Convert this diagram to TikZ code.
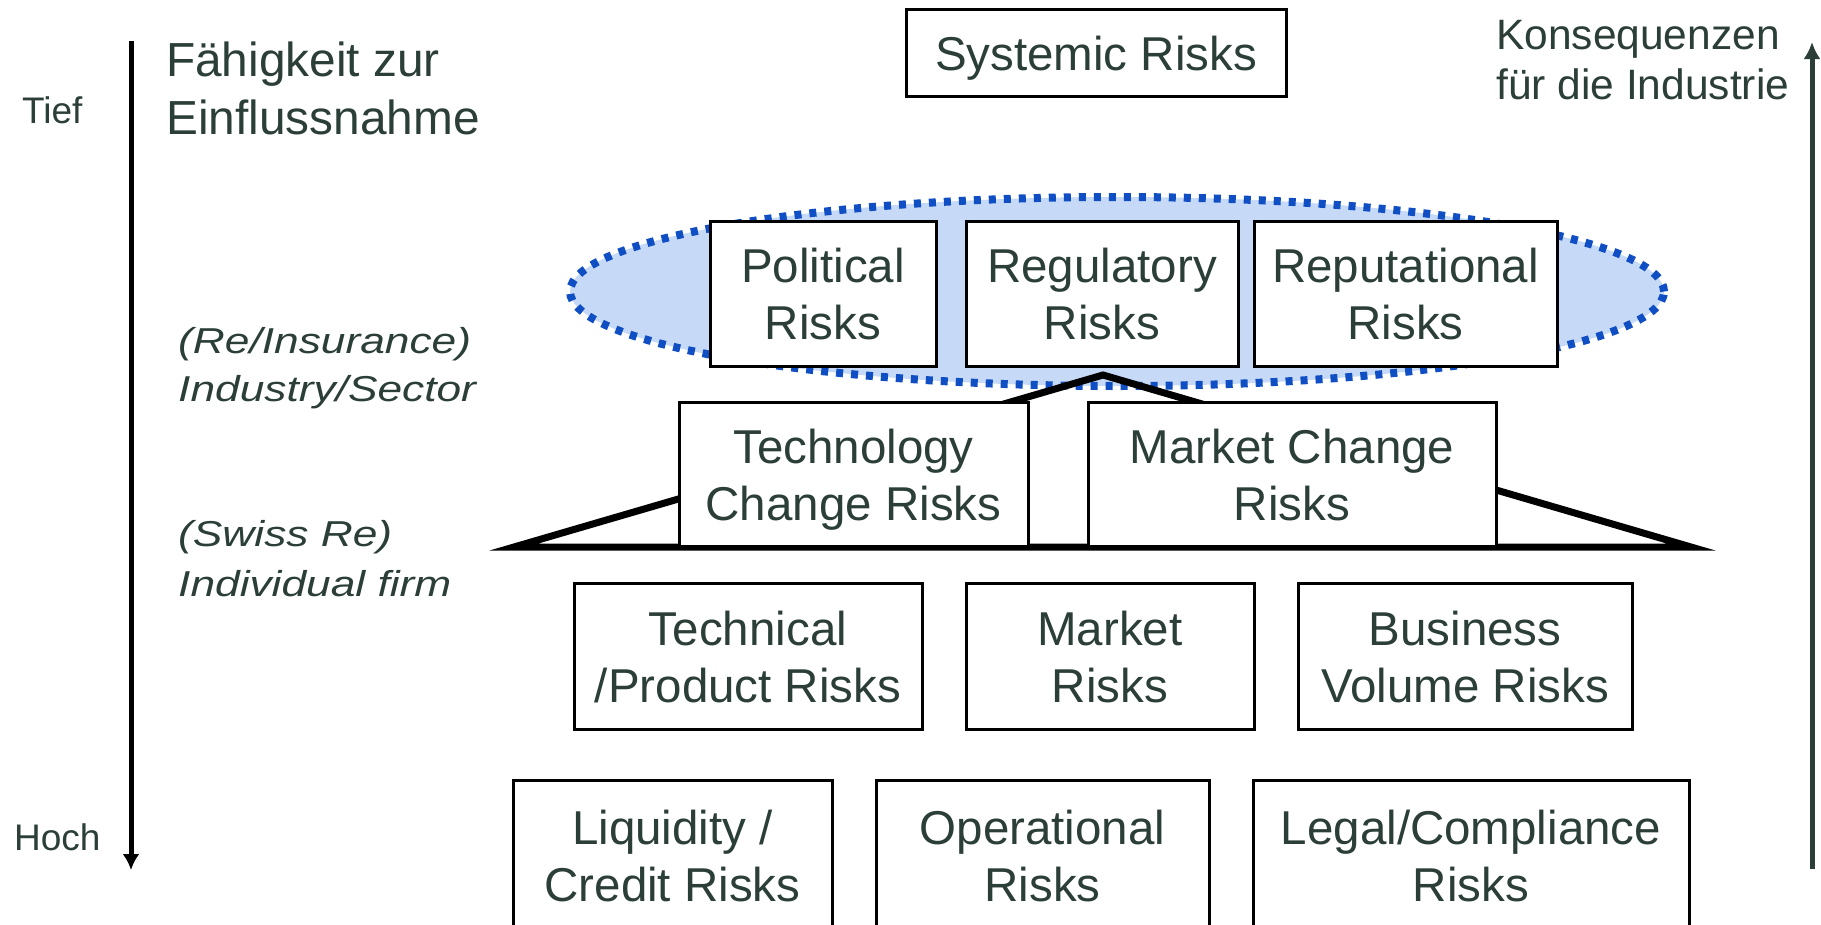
\documentclass[tikz,border=0pt]{standalone}
\usepackage{fontspec}
\setmainfont{Liberation Sans}
\newfontfamily\slfont{Liberation Sans}[FakeStretch=1.23]
\usetikzlibrary{arrows.meta,shapes.geometric}
\definecolor{txt}{RGB}{43,62,55}
\definecolor{dotblue}{RGB}{16,78,196}
\definecolor{fillblue}{RGB}{198,217,246}
\newcommand{\ls}{\rule[-10pt]{0pt}{55pt}}
\begin{document}
\begin{tikzpicture}[x=1pt,y=-1pt,
  riskbox/.style={draw=black,line width=3pt,fill=white,align=center,text=txt,inner sep=0pt,
    font=\fontsize{47.5}{57}\selectfont},
  sidelabel/.style={anchor=base west,text=txt,inner sep=0pt,font=\fontsize{47.8}{57}\selectfont},
  smalllabel/.style={anchor=base west,text=txt,inner sep=0pt,font=\fontsize{37}{44}\selectfont},
  rightlabel/.style={anchor=base west,text=txt,inner sep=0pt,font=\fontsize{42.5}{48}\selectfont},
  levellabel/.style={anchor=base west,text=txt,inner sep=0pt,font=\slfont\itshape\fontsize{36}{48}\selectfont},
  grpstyle/.style={ellipse,draw=dotblue,fill=fillblue,line width=8pt,dash pattern=on 7pt off 8pt,inner sep=0pt},
  tri/.style={draw=black,line width=7pt,line join=miter},
  downarrow/.style={draw=black,line width=5pt,-{Latex[length=16pt,width=17pt]}},
  uparrow/.style={draw=txt,line width=5pt,-{Latex[length=17pt,width=17pt]}}
]
\useasboundingbox (0,0) rectangle (1821,924);
\clip (0,0) rectangle (1821,924);

% axes
\coordinate (ltop) at (131,41);
\coordinate (lbot) at (131,870);
\coordinate (rbot) at (1812,869);
\coordinate (rtop) at (1812,42);
\draw[downarrow] (ltop) -- (lbot);
\draw[uparrow] (rbot) -- (rtop);

% side labels
\node[smalllabel] (tief) at (22,123) {Tief};
\node[smalllabel] (hoch) at (14,850) {Hoch};
\node[sidelabel] (fah1) at (166,76) {Fähigkeit zur};
\node[sidelabel] (fah2) at (166,134) {Einflussnahme};
\node[rightlabel] (kon1) at (1496,49) {Konsequenzen};
\node[rightlabel] (kon2) at (1496,99) {für die Industrie};
\node[levellabel] (ind1) at (178,353) {(Re/Insurance)};
\node[levellabel] (ind2) at (178,401) {Industry/Sector};
\node[levellabel] (firm1) at (178,546) {(Swiss Re)};
\node[levellabel] (firm2) at (178,596) {Individual firm};

% group ellipse
\node[grpstyle,minimum width=1094pt,minimum height=189pt] (grp) at (1117,291.5) {};

% triangle
\coordinate (apex) at (1103,375);
\coordinate (baseL) at (514,547);
\coordinate (baseR) at (1691,547);
\draw[tri] (baseL) -- (apex) -- (baseR) -- cycle;

% boxes
\node[riskbox,minimum width=380pt,minimum height=87pt] (sys) at (1096,52.5) {\ls Systemic Risks};

\node[riskbox,minimum width=226pt,minimum height=145pt] (pol) at (823,293.5) {\ls Political\\\ls Risks};
\node[riskbox,minimum width=272pt,minimum height=145pt] (reg) at (1102,293.5) {\ls Regulatory\\\ls Risks};
\node[riskbox,minimum width=303pt,minimum height=145pt] (rep) at (1405.5,293.5) {\ls Reputational\\\ls Risks};

\node[riskbox,minimum width=349pt,minimum height=144pt] (tech) at (853.5,474) {\ls Technology\\\ls Change Risks};
\node[riskbox,minimum width=408pt,minimum height=144pt] (mch) at (1292,474) {\ls Market Change\\\ls Risks};

\node[riskbox,minimum width=348pt,minimum height=146pt] (prod) at (748,656) {\ls Technical\\\ls /Product Risks};
\node[riskbox,minimum width=288pt,minimum height=146pt] (mkt) at (1110,656) {\ls Market\\\ls Risks};
\node[riskbox,minimum width=334pt,minimum height=146pt] (bus) at (1465,656) {\ls Business\\\ls Volume Risks};

\node[riskbox,minimum width=319pt,minimum height=150pt] (liq) at (672.5,855) {\ls Liquidity /\\\ls Credit Risks};
\node[riskbox,minimum width=333pt,minimum height=150pt] (ops) at (1042.5,855) {\ls Operational\\\ls Risks};
\node[riskbox,minimum width=436pt,minimum height=150pt] (leg) at (1471,855) {\ls Legal/Compliance\\\ls Risks};
\end{tikzpicture}
\end{document}
